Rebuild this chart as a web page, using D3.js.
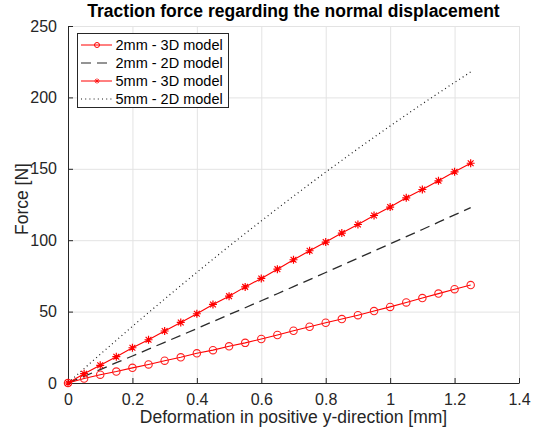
<!DOCTYPE html>
<html lang="en">
  <head>
    <meta charset="utf-8">
    <title>Traction force</title>
    <script src="https://cdnjs.cloudflare.com/ajax/libs/d3/7.8.5/d3.min.js"></script>
    <style type="text/css">
      body { margin: 0; background: #fff; }
      text { font-family: "Liberation Sans", Arial, sans-serif; }
    </style>
  </head>
  <body>
    <script type="text/javascript">

    // deformation [mm]
    var deform = [0, 0.05, 0.1, 0.15, 0.2, 0.25, 0.3, 0.35, 0.4, 0.45, 0.5, 0.55, 0.6,
                  0.65, 0.7, 0.75, 0.8, 0.85, 0.9, 0.95, 1.0, 1.05, 1.1, 1.15, 1.2, 1.25];

    // force [N]
    var f2mm3D = [0, 3.1, 5.8, 8.0, 10.6, 13.0, 15.6, 18.0, 20.8, 23.0, 25.7, 28.1, 30.8,
                  33.6, 36.6, 39.4, 42.2, 44.8, 47.5, 50.4, 53.3, 56.4, 59.5, 62.6, 65.7, 68.6];
    var f2mm2D = [0, 4.7, 9.4, 14.2, 18.9, 23.7, 28.5, 33.3, 38.1, 43.0, 47.9, 52.7, 57.6,
                  62.5, 67.5, 72.4, 77.4, 82.4, 87.4, 92.4, 97.4, 102.5, 107.5, 112.6, 117.7, 122.8];
    var f5mm3D = [0, 6.5, 12.4, 18.4, 24.7, 30.3, 36.4, 42.4, 48.5, 55.0, 60.8, 67.3, 73.2,
                  79.7, 86.3, 92.6, 98.7, 105.0, 111.0, 117.3, 123.2, 129.7, 135.5, 141.6, 147.9, 153.9];
    var f5mm2D = [0, 10.1, 20.1, 29.9, 39.7, 49.3, 58.8, 68.2, 77.5, 86.7, 95.8, 104.7, 113.5,
                  122.2, 130.8, 139.3, 147.7, 155.9, 164.1, 172.1, 180.0, 187.8, 195.5, 203.0, 210.5, 217.8];

    var xTicks = [0, 0.2, 0.4, 0.6, 0.8, 1, 1.2, 1.4];
    var yTicks = [0, 50, 100, 150, 200, 250];
    var seriesNames = ["2mm - 3D model", "2mm - 2D model", "5mm - 3D model", "5mm - 2D model"];

    var w = 543, h = 434;
    var plotL = 68, plotR = 519, plotT = 26, plotB = 383;
    var axisColor = "#262626";

    var svg = d3.select("body").append("svg")
                .attr("width", w)
                .attr("height", h);

    var x = d3.scaleLinear().domain([0, 1.4]).range([plotL, plotR]);
    var y = d3.scaleLinear().domain([0, 250]).range([plotB, plotT]);

    // grid
    svg.append("g").selectAll("line")
       .data(xTicks.slice(1))
       .enter().append("line")
       .attr("x1", function(d) { return x(d) + 0.5; })
       .attr("x2", function(d) { return x(d) + 0.5; })
       .attr("y1", plotT).attr("y2", plotB)
       .attr("stroke", "#e3e3e3").attr("stroke-width", 1);
    svg.append("g").selectAll("line")
       .data(yTicks.slice(1))
       .enter().append("line")
       .attr("x1", plotL).attr("x2", plotR)
       .attr("y1", function(d) { return y(d) + 0.5; })
       .attr("y2", function(d) { return y(d) + 0.5; })
       .attr("stroke", "#e3e3e3").attr("stroke-width", 1);

    // axes
    var xAxis = svg.append("g")
       .attr("transform", "translate(0," + plotB + ")")
       .call(d3.axisBottom(x).tickValues(xTicks).tickSizeInner(-5).tickSizeOuter(0)
             .tickPadding(11).tickFormat(function(d) { return d3.format("")(d); }));
    var yAxis = svg.append("g")
       .attr("transform", "translate(" + plotL + ",0)")
       .call(d3.axisLeft(y).tickValues(yTicks).tickSizeInner(-5).tickSizeOuter(0)
             .tickPadding(11));
    [xAxis, yAxis].forEach(function(a) {
      a.select(".domain").attr("stroke", axisColor);
      a.selectAll(".tick line").attr("stroke", axisColor);
      a.selectAll("text").attr("fill", axisColor)
       .style("font-size", "16px").style("font-family", "'Liberation Sans', Arial, sans-serif");
    });

    // labels
    svg.append("text")
       .attr("x", (plotL + plotR) / 2).attr("y", 17)
       .attr("text-anchor", "middle")
       .style("font-size", "17.5px").style("font-weight", "bold")
       .attr("fill", "#000")
       .text("Traction force regarding the normal displacement");
    svg.append("text")
       .attr("x", (plotL + plotR) / 2).attr("y", 423)
       .attr("text-anchor", "middle")
       .style("font-size", "17.5px")
       .attr("fill", axisColor)
       .text("Deformation in positive y-direction [mm]");
    svg.append("text")
       .attr("transform", "translate(28,199) rotate(-90)")
       .attr("text-anchor", "middle")
       .style("font-size", "17.5px")
       .attr("fill", axisColor)
       .text("Force [N]");

    function pts(vals) {
      return deform.map(function(d, i) { return [d, vals[i]]; });
    }
    var line = d3.line()
                 .x(function(d) { return x(d[0]); })
                 .y(function(d) { return y(d[1]); });

    var plot = svg.append("g");

    // 2D models
    plot.append("path").datum(pts(f5mm2D)).attr("d", line)
        .attr("fill", "none").attr("stroke", "#1a1a1a").attr("stroke-width", 1.2)
        .attr("stroke-dasharray", "1,3.2");
    plot.append("path").datum(pts(f2mm2D)).attr("d", line)
        .attr("fill", "none").attr("stroke", "#2a2a2a").attr("stroke-width", 1.3)
        .attr("stroke-dasharray", "10,6");

    // 3D models
    plot.append("path").datum(pts(f2mm3D)).attr("d", line)
        .attr("fill", "none").attr("stroke", "#ff0000").attr("stroke-width", 1.1);
    plot.selectAll("circle.m2")
        .data(pts(f2mm3D)).enter().append("circle")
        .attr("cx", function(d) { return x(d[0]); })
        .attr("cy", function(d) { return y(d[1]); })
        .attr("r", 3.7)
        .attr("fill", "none").attr("stroke", "#ff2020").attr("stroke-width", 1.1);

    plot.append("path").datum(pts(f5mm3D)).attr("d", line)
        .attr("fill", "none").attr("stroke", "#ff0000").attr("stroke-width", 1.1);

    var star = "M-4,0H4M0,-4V4M-2.9,-2.9L2.9,2.9M-2.9,2.9L2.9,-2.9";
    plot.selectAll("path.m5")
        .data(pts(f5mm3D)).enter().append("path")
        .attr("transform", function(d) { return "translate(" + x(d[0]) + "," + y(d[1]) + ")"; })
        .attr("d", star)
        .attr("fill", "none").attr("stroke", "#ff0000").attr("stroke-width", 1.2);

    // legend
    var lg = svg.append("g");
    lg.append("rect")
      .attr("x", 77.5).attr("y", 33.5).attr("width", 151).attr("height", 74)
      .attr("fill", "#fff").attr("stroke", "#262626").attr("stroke-width", 1);
    var rowY = [45, 63, 81, 99];
    var styles = [
      {stroke: "#ff0000", dash: null, marker: "circle"},
      {stroke: "#2a2a2a", dash: "10,6", marker: null},
      {stroke: "#ff0000", dash: null, marker: "star"},
      {stroke: "#1a1a1a", dash: "1,3.2", marker: null}
    ];
    seriesNames.forEach(function(name, i) {
      var s = styles[i];
      var ly = rowY[i];
      var l = lg.append("line")
        .attr("x1", 81).attr("x2", 112).attr("y1", ly).attr("y2", ly)
        .attr("stroke", s.stroke).attr("stroke-width", s.dash ? 1.2 : 1);
      if (s.dash) l.attr("stroke-dasharray", s.dash);
      if (s.marker === "circle") {
        lg.append("circle").attr("cx", 97).attr("cy", ly).attr("r", 2.5)
          .attr("fill", "none").attr("stroke", "#ff0000");
      } else if (s.marker === "star") {
        lg.append("path").attr("transform", "translate(97," + ly + ") scale(0.7)")
          .attr("d", star).attr("fill", "none").attr("stroke", "#ff0000");
      }
      lg.append("text")
        .attr("x", 115.5).attr("y", ly + 5)
        .style("font-size", "14.5px")
        .attr("fill", "#000")
        .text(name);
    });

    </script>
  </body>
</html>
